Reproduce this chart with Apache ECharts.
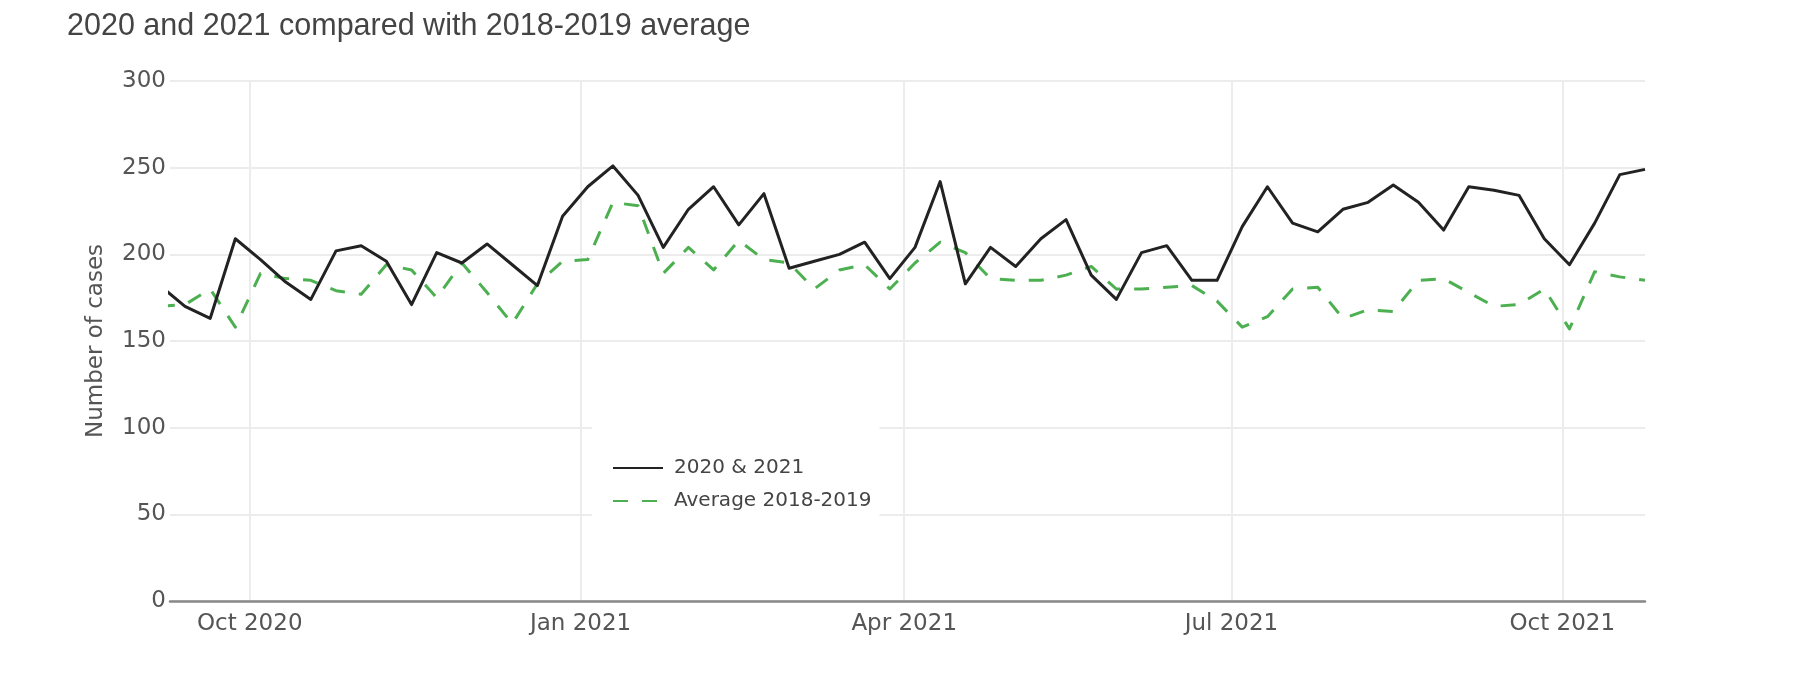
<!DOCTYPE html>
<html>
<head>
<meta charset="utf-8">
<script src="https://cdn.jsdelivr.net/npm/echarts@6/dist/echarts.min.js"></script>
<style>
  html, body { margin: 0; padding: 0; background: #fff; }
  #chart { width: 1796px; height: 696px; }
</style>
</head>
<body>
<div id="chart"></div>
<script>
// Weekly dates (first one lies just left of the visible range and is clipped)
const weeks = [
  '2020-09-06','2020-09-13','2020-09-20','2020-09-27','2020-10-04','2020-10-11','2020-10-18','2020-10-25',
  '2020-11-01','2020-11-08','2020-11-15','2020-11-22','2020-11-29','2020-12-06','2020-12-13','2020-12-20',
  '2020-12-27','2021-01-03','2021-01-10','2021-01-17','2021-01-24','2021-01-31','2021-02-07','2021-02-14',
  '2021-02-21','2021-02-28','2021-03-07','2021-03-14','2021-03-21','2021-03-28','2021-04-04','2021-04-11',
  '2021-04-18','2021-04-25','2021-05-02','2021-05-09','2021-05-16','2021-05-23','2021-05-30','2021-06-06',
  '2021-06-13','2021-06-20','2021-06-27','2021-07-04','2021-07-11','2021-07-18','2021-07-25','2021-08-01',
  '2021-08-08','2021-08-15','2021-08-22','2021-08-29','2021-09-05','2021-09-12','2021-09-19','2021-09-26',
  '2021-10-03','2021-10-10','2021-10-17','2021-10-24'
];

// 2020 & 2021 weekly cases
const cases2020_2021 = [
  182, 170, 163, 209, 197, 184, 174, 202, 205, 196, 171, 201, 195, 206, 194, 182,
  222, 239, 251, 234, 204, 226, 239, 217, 235, 192, 196, 200, 207, 186, 204, 242,
  183, 204, 193, 209, 220, 188, 174, 201, 205, 185, 185, 216, 239, 218, 213, 226,
  230, 240, 230, 214, 239, 237, 234, 209, 194, 218, 246, 249
];

// Average 2018-2019 weekly cases
const average2018_2019 = [
  170, 171, 180, 158, 189, 186, 185, 179, 177, 194, 191, 175, 195, 178, 160, 183,
  196, 197, 230, 228, 189, 204, 191, 208, 197, 195, 180, 191, 194, 180, 195, 207,
  201, 186, 185, 185, 188, 193, 180, 180, 181, 182, 173, 158, 164, 180, 181, 163,
  168, 167, 185, 186, 178, 170, 171, 180, 157, 190, 187, 185
];

const seriesNames = ['2020 & 2021', 'Average 2018-2019'];
const tickDates = ['2020-10-01', '2021-01-01', '2021-04-01', '2021-07-01', '2021-10-01'];
const tickLabels = ['Oct 2020', 'Jan 2021', 'Apr 2021', 'Jul 2021', 'Oct 2021'];
const yTicks = [0, 50, 100, 150, 200, 250, 300];
const xRange = ['2020-09-08T20:00:00Z', '2021-10-24T00:00:00Z'];

function ts(s) { return new Date(s.length === 10 ? s + 'T00:00:00Z' : s).getTime(); }

const tickTs = tickDates.map(ts);
const labelByTs = {};
tickTs.forEach((t, i) => { labelByTs[t] = tickLabels[i]; });

const chart = echarts.init(document.getElementById('chart'), null, { renderer: 'canvas' });

const tickFont = { fontFamily: 'DejaVu Sans', fontSize: 23, color: '#555' };

chart.setOption({
  animation: false,
  backgroundColor: '#fff',
  title: {
    text: '2020 and 2021 compared with 2018-2019 average',
    left: 62,
    top: 6,
    textStyle: { fontFamily: 'Liberation Sans', fontSize: 30.5, fontWeight: 'normal', color: '#444' }
  },
  legend: {
    orient: 'vertical',
    left: 592,
    top: 421,
    padding: [37, 8, 10, 20],
    backgroundColor: '#fff',
    itemWidth: 50,
    itemHeight: 20,
    itemGap: 13,
    data: seriesNames,
    itemStyle: { opacity: 0 },
    textStyle: { fontFamily: 'DejaVu Sans', fontSize: 20, color: '#444', padding: [0, 0, 0, 6] }
  },
  grid: { left: 170, right: 151, top: 81, bottom: 95 },
  xAxis: {
    type: 'value',
    min: ts(xRange[0]),
    max: ts(xRange[1]),
    axisLine: { show: true, onZero: false, lineStyle: { color: '#888', width: 2.5 } },
    axisTick: { show: false, customValues: tickTs },
    axisLabel: {
      customValues: tickTs,
      margin: 12,
      showMinLabel: true,
      showMaxLabel: true,
      formatter: function (v) { return labelByTs[v] || ''; },
      fontFamily: tickFont.fontFamily, fontSize: tickFont.fontSize, color: tickFont.color
    },
    splitLine: { show: true, lineStyle: { color: '#ececec', width: 2 } }
  },
  yAxis: {
    type: 'value',
    min: yTicks[0],
    max: yTicks[yTicks.length - 1],
    interval: 50,
    name: 'Number of cases',
    nameLocation: 'middle',
    nameGap: 62,
    nameTextStyle: { fontFamily: 'DejaVu Sans', fontSize: 23, color: '#555' },
    axisLine: { show: false },
    axisTick: { show: false },
    axisLabel: { margin: 4, fontFamily: tickFont.fontFamily, fontSize: tickFont.fontSize, color: tickFont.color },
    splitLine: { show: true, lineStyle: { color: '#ececec', width: 2 } }
  },
  series: [
    {
      name: seriesNames[0],
      type: 'line',
      symbol: 'none',
      clip: true,
      z: 3,
      data: weeks.map((d, i) => [ts(d), cases2020_2021[i]]),
      lineStyle: { color: '#222', width: 3, join: 'round' },
      itemStyle: { color: '#222' }
    },
    {
      name: seriesNames[1],
      type: 'line',
      symbol: 'none',
      clip: true,
      z: 2,
      data: weeks.map((d, i) => [ts(d), average2018_2019[i]]),
      lineStyle: { color: '#4caf50', width: 3, type: [15, 14], join: 'round' },
      itemStyle: { color: '#4caf50' }
    }
  ]
});
</script>
</body>
</html>
